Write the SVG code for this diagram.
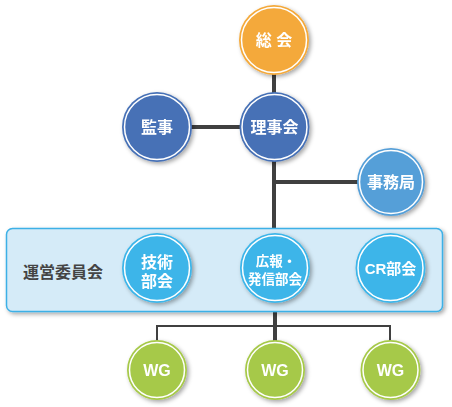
<svg xmlns="http://www.w3.org/2000/svg" width="452" height="407" viewBox="0 0 452 407">
<defs>
<filter id="sh" x="-30%" y="-30%" width="160%" height="160%">
<feDropShadow dx="2" dy="2" stdDeviation="2" flood-color="#000" flood-opacity="0.35"/>
</filter>
<style>
.ring{fill:none;stroke:#fff;stroke-width:1.5}
.t{font-family:"Liberation Sans","Noto Sans CJK JP",sans-serif;font-weight:bold;fill:#fff;text-anchor:middle}
.thick{stroke:#404040;stroke-width:4;fill:none}
.thin{stroke:#404040;stroke-width:2;fill:none}
.orange{fill:#f4a93a}
.navy{fill:#4771b6}
.mid{fill:#559fd8}
.sky{fill:#3cb5e9}
.green{fill:#a6c94a}
</style>
</defs>
<rect width="452" height="407" fill="#fff"/>
<g id="connectors">
<line class="thick" x1="274" y1="70" x2="274" y2="95"/>
<line class="thick" x1="190" y1="127" x2="242" y2="127"/>
<line class="thick" x1="274" y1="160" x2="274" y2="230"/>
<line class="thick" x1="274" y1="182" x2="360" y2="182"/>
<line class="thick" x1="275" y1="310" x2="275" y2="342"/>
<polyline class="thin" points="157,342 157,326 390,326 390,342"/>
</g>
<g id="committee">
<rect x="6.5" y="228.5" width="436" height="83" rx="6" fill="#d5ebf8" stroke="#3cb0e6" stroke-width="1.5" filter="url(#sh)"/>
<text x="63" y="278" font-family="'Liberation Sans','Noto Sans CJK JP',sans-serif" font-weight="bold" font-size="16" fill="#444" text-anchor="middle">運営委員会</text>
</g>
<g id="soukai" filter="url(#sh)">
<circle class="orange" cx="274" cy="40" r="35"/><circle class="ring" cx="274" cy="40" r="32.5"/>
<text class="t" x="274" y="46" font-size="16">総 会</text>
</g>
<g id="kanji" filter="url(#sh)">
<circle class="navy" cx="157" cy="127" r="35"/><circle class="ring" cx="157" cy="127" r="32.5"/>
<text class="t" x="157" y="133" font-size="16">監事</text>
</g>
<g id="rijikai" filter="url(#sh)">
<circle class="navy" cx="274.5" cy="127" r="35"/><circle class="ring" cx="274.5" cy="127" r="32.5"/>
<text class="t" x="274.5" y="133" font-size="16">理事会</text>
</g>
<g id="jimukyoku" filter="url(#sh)">
<circle class="mid" cx="391" cy="182" r="34"/><circle class="ring" cx="391" cy="182" r="31.5"/>
<text class="t" x="391" y="188" font-size="16">事務局</text>
</g>
<g id="gijutsu" filter="url(#sh)">
<circle class="sky" cx="157" cy="268" r="35"/><circle class="ring" cx="157" cy="268" r="32.5"/>
<text class="t" x="157" y="268" font-size="16">技術</text>
<text class="t" x="157" y="287" font-size="16">部会</text>
</g>
<g id="kouhou" filter="url(#sh)">
<circle class="sky" cx="275" cy="268" r="35"/><circle class="ring" cx="275" cy="268" r="32.5"/>
<text class="t" x="276" y="266" font-size="13.5">広報・</text>
<text class="t" x="275" y="284" font-size="13.5">発信部会</text>
</g>
<g id="cr" filter="url(#sh)">
<circle class="sky" cx="390.5" cy="268" r="35"/><circle class="ring" cx="390.5" cy="268" r="32.5"/>
<text class="t" x="390.5" y="274" font-size="15">CR部会</text>
</g>
<g id="wg1" filter="url(#sh)">
<circle class="green" cx="157" cy="370" r="30"/><circle class="ring" cx="157" cy="370" r="27.5"/>
<text class="t" x="157" y="376" font-size="16">WG</text>
</g>
<g id="wg2" filter="url(#sh)">
<circle class="green" cx="275" cy="370" r="30"/><circle class="ring" cx="275" cy="370" r="27.5"/>
<text class="t" x="275" y="376" font-size="16">WG</text>
</g>
<g id="wg3" filter="url(#sh)">
<circle class="green" cx="390.5" cy="370" r="30"/><circle class="ring" cx="390.5" cy="370" r="27.5"/>
<text class="t" x="390.5" y="376" font-size="16">WG</text>
</g>
</svg>
